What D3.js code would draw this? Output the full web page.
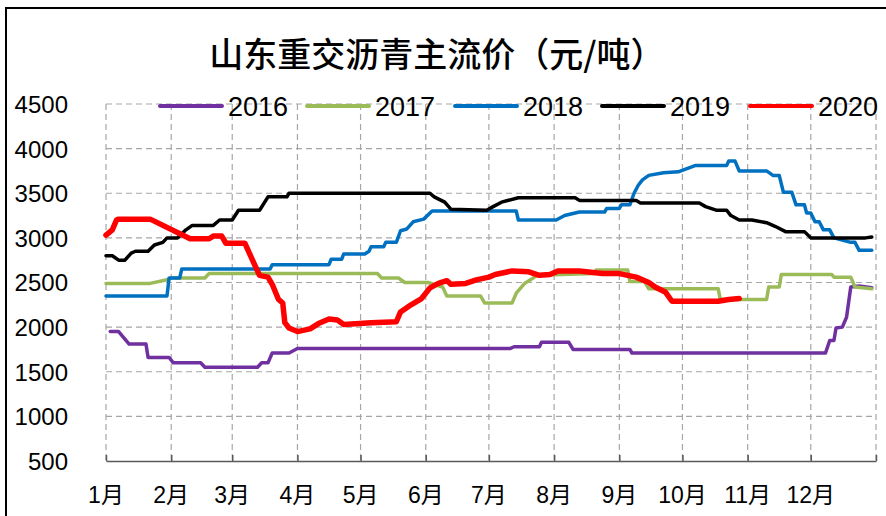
<!DOCTYPE html>
<html><head><meta charset="utf-8">
<script src="https://cdn.jsdelivr.net/npm/d3@7/dist/d3.min.js"></script>
<style>
html,body{margin:0;padding:0;background:#fff;}
svg{display:block;}
</style></head>
<body>
<svg id="chart" width="886" height="516"></svg>
<script>
const title = "山东重交沥青主流价（元/吨）";
const monthLabels = ["1月","2月","3月","4月","5月","6月","7月","8月","9月","10月","11月","12月"];
const yTicks = [500,1000,1500,2000,2500,3000,3500,4000,4500];
const seriesNames = ["2016","2017","2018","2019","2020"];
const seriesColors = ["#7030A0","#9BBB59","#0070C0","#000000","#FF0000"];

const s2016 = [["01-03",1950],["01-07",1950],["01-12",1810],["01-20",1810],["01-21",1660],["01-31",1660],["02-02",1600],["02-15",1600],["02-17",1550],["03-13",1550],["03-15",1600],["03-18",1600],["03-20",1710],["03-28",1710],["04-01",1760],["07-11",1760],["07-13",1780],["07-25",1780],["07-26",1830],["08-08",1830],["08-10",1750],["09-06",1750],["09-07",1710],["12-08",1710],["12-10",1850],["12-12",1850],["12-13",1990],["12-16",2000],["12-18",2110],["12-20",2450],["12-24",2460],["12-30",2440]];

const s2017 = [["01-01",2490],["01-22",2490],["01-30",2530],["02-01",2550],["02-17",2550],["02-19",2600],["05-09",2600],["05-11",2550],["05-19",2550],["05-22",2500],["06-02",2500],["06-09",2450],["06-11",2350],["06-27",2350],["06-29",2270],["07-12",2270],["07-14",2380],["07-18",2490],["07-20",2520],["07-24",2580],["08-20",2600],["08-21",2640],["09-05",2640],["09-06",2510],["09-13",2510],["09-15",2430],["10-18",2430],["10-19",2310],["11-10",2310],["11-11",2450],["11-16",2450],["11-17",2590],["12-11",2590],["12-12",2560],["12-20",2560],["12-22",2450],["12-30",2430]];

const s2018 = [["01-01",2350],["01-30",2350],["01-31",2550],["02-05",2550],["02-06",2650],["03-19",2650],["03-20",2700],["04-16",2700],["04-17",2760],["04-22",2760],["04-23",2820],["05-03",2820],["05-05",2850],["05-06",2900],["05-12",2900],["05-13",2950],["05-18",2950],["05-20",3080],["05-23",3100],["05-26",3180],["05-31",3210],["06-04",3300],["07-14",3300],["07-15",3200],["08-02",3200],["08-06",3250],["08-13",3290],["08-25",3290],["08-26",3330],["09-01",3330],["09-02",3370],["09-06",3370],["09-08",3500],["09-10",3590],["09-12",3650],["09-15",3700],["09-22",3730],["09-29",3740],["10-07",3810],["10-22",3810],["10-23",3860],["10-26",3860],["10-28",3750],["11-10",3750],["11-13",3700],["11-16",3700],["11-18",3510],["11-22",3510],["11-24",3370],["11-28",3370],["11-29",3280],["12-01",3280],["12-03",3180],["12-05",3180],["12-07",3090],["12-10",3090],["12-12",3000],["12-20",2950],["12-22",2950],["12-24",2860],["12-30",2860]];

const s2019 = [["01-01",2800],["01-04",2800],["01-07",2750],["01-10",2750],["01-13",2830],["01-15",2850],["01-21",2850],["01-24",2920],["01-28",2950],["01-30",3000],["02-04",3000],["02-08",3090],["02-11",3140],["02-21",3140],["02-24",3200],["03-01",3200],["03-04",3310],["03-14",3310],["03-18",3460],["03-27",3460],["03-28",3500],["06-03",3500],["06-05",3460],["06-10",3400],["06-13",3320],["06-30",3310],["07-03",3350],["07-07",3400],["07-15",3450],["08-11",3450],["08-13",3420],["09-09",3420],["09-11",3390],["10-09",3390],["10-12",3350],["10-17",3310],["10-22",3310],["10-24",3250],["10-28",3200],["11-03",3200],["11-10",3170],["11-14",3130],["11-19",3070],["11-28",3070],["12-01",3000],["12-27",3000],["12-30",3010]];

const s2020 = [["01-01",3030],["01-04",3090],["01-06",3200],["01-07",3210],["01-22",3210],["02-10",2990],["02-19",2990],["02-21",3020],["02-25",3020],["02-27",2940],["03-07",2940],["03-12",2680],["03-14",2580],["03-18",2560],["03-20",2480],["03-23",2310],["03-25",2270],["03-26",2050],["03-28",1990],["04-01",1950],["04-07",1980],["04-11",2040],["04-16",2090],["04-20",2080],["04-23",2030],["05-06",2050],["05-18",2060],["05-20",2170],["05-25",2250],["05-30",2320],["06-03",2440],["06-07",2490],["06-11",2520],["06-13",2480],["06-20",2490],["06-25",2530],["07-01",2560],["07-04",2590],["07-12",2630],["07-20",2620],["07-25",2580],["07-30",2590],["08-03",2630],["08-13",2630],["08-24",2600],["09-01",2600],["09-09",2560],["09-15",2500],["09-18",2450],["09-23",2390],["09-26",2290],["10-18",2290],["10-23",2310],["10-28",2320]];

const allSeries = [s2016, s2017, s2018, s2019, s2020];
const lineWidths = [3.5, 3.5, 3.5, 3.5, 5.5];

const svg = d3.select("#chart");
const parse = d3.timeParse("%Y-%m-%d");
const x = d3.scaleTime().domain([parse("2020-01-01"), parse("2021-01-01")]).range([106, 876]);
const y = d3.scaleLinear().domain([500, 4500]).range([461, 104]);

// frame
svg.append("rect").attr("x",6).attr("y",8).attr("width",900).attr("height",520)
  .attr("fill","none").attr("stroke","#000").attr("stroke-width",2);

// title
svg.append("text").attr("x",437).attr("y",67).attr("text-anchor","middle")
  .attr("font-family","'Noto Sans CJK SC', sans-serif").attr("font-weight","500")
  .attr("font-size",34).attr("fill","#000").text(title);

const monthDates = d3.range(12).map(i => new Date(2020, i, 1));
const gridDash = "6,4";
// vertical grid
svg.append("g").selectAll("line").data(monthDates.concat([new Date(2021,0,1)])).join("line")
  .attr("x1", d=>x(d)).attr("x2", d=>x(d)).attr("y1", y(4500)).attr("y2", y(500))
  .attr("stroke","#a6a6a6").attr("stroke-width",1.2).attr("stroke-dasharray",gridDash);
// horizontal grid
svg.append("g").selectAll("line").data(yTicks.filter(v=>v>500)).join("line")
  .attr("x1", x.range()[0]).attr("x2", x.range()[1]).attr("y1", d=>y(d)).attr("y2", d=>y(d))
  .attr("stroke","#a6a6a6").attr("stroke-width",1.2).attr("stroke-dasharray",gridDash);

// x axis
const xAxis = d3.axisBottom(x).tickValues(monthDates.concat([new Date(2021,0,1)]))
  .tickSizeInner(-6).tickSizeOuter(0).tickFormat("");
const gx = svg.append("g").attr("transform",`translate(0,${y(500)})`).call(xAxis);
gx.select(".domain").attr("stroke","#595959").attr("stroke-width",1.5);
gx.selectAll(".tick line").attr("stroke","#595959").attr("stroke-width",1.5);

// month labels
svg.append("g").selectAll("text").data(monthDates).join("text")
  .attr("x", d=>x(d)).attr("y", 503).attr("text-anchor","middle")
  .attr("font-family","'Liberation Sans', Arial, 'Noto Sans CJK SC', sans-serif")
  .attr("font-size",23).attr("fill","#000")
  .text((d,i)=>monthLabels[i]);

// y axis labels
const yAxis = d3.axisLeft(y).tickValues(yTicks).tickSize(0).tickPadding(0).tickFormat(d3.format("d"));
const gy = svg.append("g").attr("transform","translate(68,0)").call(yAxis);
gy.select(".domain").remove();
gy.selectAll("text").attr("font-family","'Liberation Sans', Arial, sans-serif")
  .attr("font-size",24).attr("fill","#000").attr("dy","0.35em");

// lines
const line = d3.line().x(d=>x(parse("2020-"+d[0]))).y(d=>y(d[1]));
allSeries.forEach((s,i)=>{
  svg.append("path").datum(s).attr("d", line).attr("fill","none")
    .attr("stroke", seriesColors[i]).attr("stroke-width", lineWidths[i])
    .attr("stroke-linejoin","round").attr("stroke-linecap","round");
});

// legend
const legendX = [160, 307, 455, 602, 750];
const legend = svg.append("g");
seriesNames.forEach((n,i)=>{
  legend.append("line").attr("x1",legendX[i]).attr("x2",legendX[i]+62).attr("y1",106).attr("y2",106)
    .attr("stroke",seriesColors[i]).attr("stroke-width",4).attr("stroke-linecap","round");
  legend.append("text").attr("x",legendX[i]+68).attr("y",107).attr("dy","0.35em")
    .attr("font-family","'Liberation Sans', Arial, sans-serif").attr("font-size",27).attr("fill","#000").text(n);
});
</script>
</body></html>
